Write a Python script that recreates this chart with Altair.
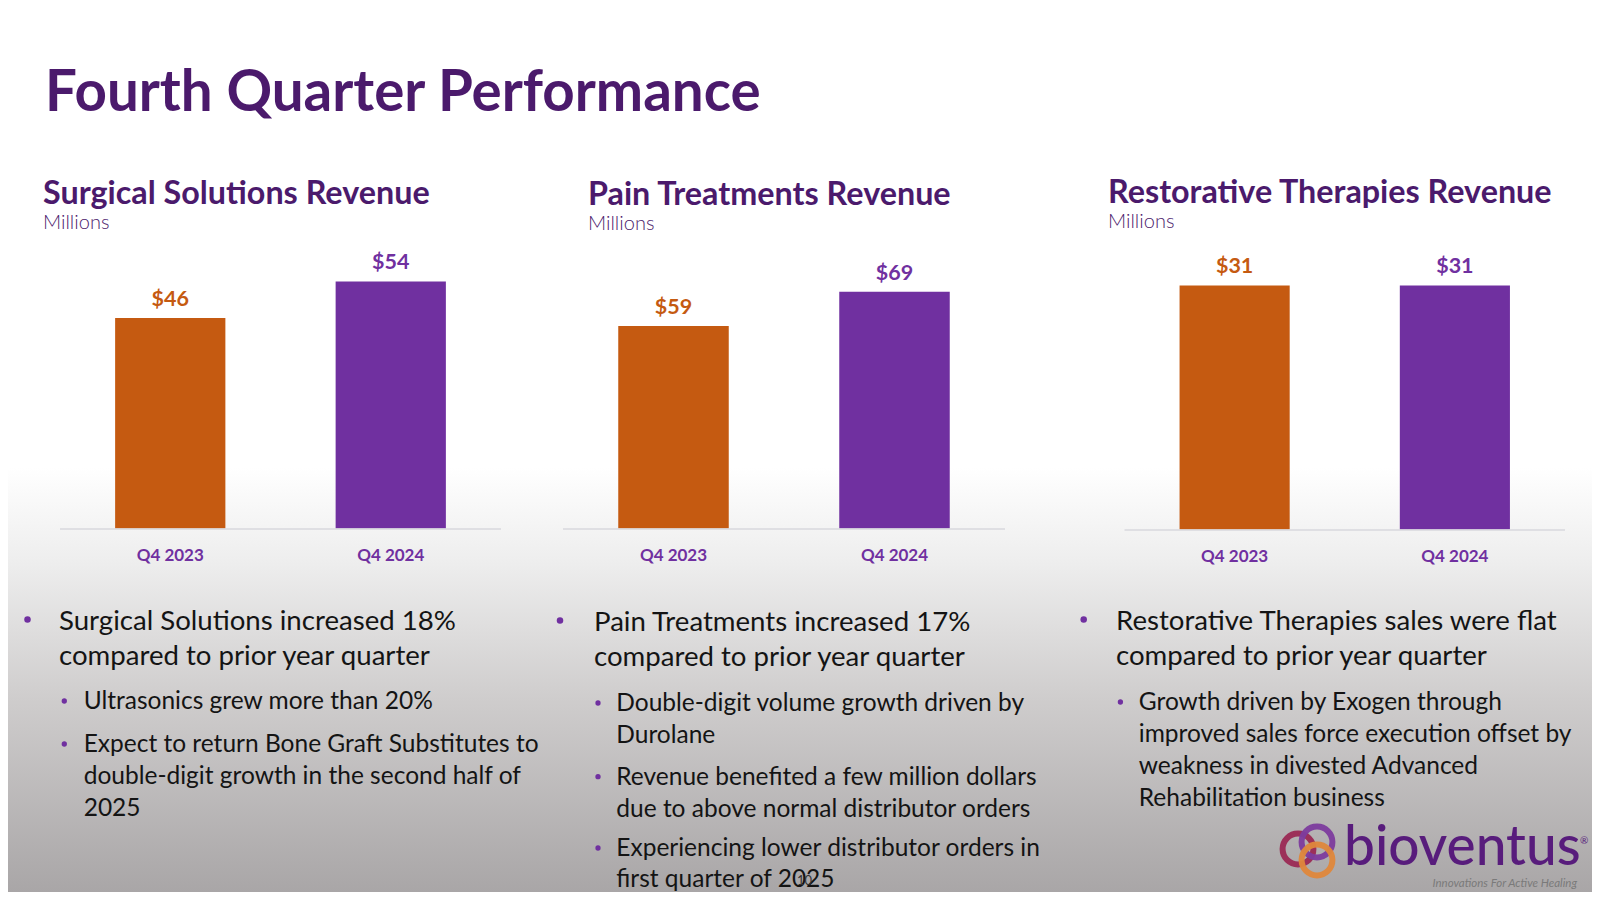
import altair as alt
import pandas as pd

# ---------------- data ----------------
slide_title = "Fourth Quarter Performance"
categories = ["Q4 2023", "Q4 2024"]
bar_colors = ["#C55A11", "#7030A0"]

panel_titles = ["Surgical Solutions Revenue", "Pain Treatments Revenue", "Restorative Therapies Revenue"]
panel_unit = "Millions"
surgical_values = [46, 54]
pain_values = [59, 69]
restorative_values = [31, 31]
axis_max = [60, 80, 35]

surgical_main = ["Surgical Solutions increased 18%", "compared to prior year quarter"]
surgical_sub1 = ["Ultrasonics grew more than 20%"]
surgical_sub2 = ["Expect to return Bone Graft Substitutes to",
                 "double-digit growth in the second half of", "2025"]

pain_main = ["Pain Treatments increased 17%", "compared to prior year quarter"]
pain_sub1 = ["Double-digit volume growth driven by", "Durolane"]
pain_sub2 = ["Revenue benefited a few million dollars", "due to above normal distributor orders"]
pain_sub3 = ["Experiencing lower distributor orders in", "first quarter of 2025"]

rest_main = ["Restorative Therapies sales were flat", "compared to prior year quarter"]
rest_sub1 = ["Growth driven by Exogen through", "improved sales force execution offset by",
             "weakness in divested Advanced", "Rehabilitation business"]

logo_word = "bioventus"
logo_tag = "Innovations For Active Healing"
slide_number = "10"

# ---------------- styling ----------------
W, H = 1584, 884
DARK = "#4B1A6C"
PURPLE = "#7030A0"
TEXT = "#141414"
FONT = "Lato"

one = pd.DataFrame({"k": [0]})


def txt(lines, x, y, size, color=TEXT, weight="normal", lh=None, align="left",
        style="normal", font=FONT):
    kw = dict(text=lines, x=x, y=y, fontSize=size, color=color, fontWeight=weight,
              align=align, baseline="alphabetic", font=font, fontStyle=style)
    if lh is not None:
        kw["lineHeight"] = lh
    return alt.Chart(one).mark_text(**kw)


def dot(x, y, size):
    return alt.Chart(one).mark_circle(x=x, y=y, size=size, color=PURPLE, opacity=1)


layers = []

# background gradient
grad = alt.LinearGradient(
    gradient="linear",
    stops=[alt.GradientStop(color="#ffffff", offset=0),
           alt.GradientStop(color="#ffffff", offset=0.52),
           alt.GradientStop(color="#ededed", offset=0.63),
           alt.GradientStop(color="#cfcdcd", offset=0.78),
           alt.GradientStop(color="#a9a6a7", offset=1)],
    x1=0, x2=0, y1=0, y2=1)
layers.append(alt.Chart(one).mark_rect(fill=grad).encode(
    x=alt.value(0), x2=alt.value(W), y=alt.value(0), y2=alt.value(H)))

# slide title
layers.append(txt(slide_title, 37, 103, 56.5, DARK, "bold"))

# panels
panels = [
    dict(vals=surgical_values, x0=52, x1=493, base=520.6, title_x=35, title_y=196, unit_y=221),
    dict(vals=pain_values, x0=555, x1=997, base=520.6, title_x=580, title_y=197, unit_y=222),
    dict(vals=restorative_values, x0=1116.5, x1=1557, base=521.6, title_x=1100, title_y=195, unit_y=220),
]
for i, p in enumerate(panels):
    df = pd.DataFrame({"cat": categories, "value": p["vals"]})
    xs = alt.Scale(domain=categories, range=[p["x0"], p["x1"]], paddingInner=0.5, paddingOuter=0.25)
    ys = alt.Scale(domain=[0, axis_max[i]], range=[p["base"], 246], nice=False, zero=True)
    cs = alt.Scale(domain=categories, range=bar_colors)
    X = alt.X("cat:N", scale=xs, axis=None, sort=categories)
    Y = alt.Y("value:Q", scale=ys, axis=None)
    C = alt.Color("cat:N", scale=cs, legend=None)
    base = alt.Chart(df)
    layers.append(base.mark_bar().encode(x=X, y=Y, color=C))
    layers.append(base.mark_text(font=FONT, fontSize=21.5, fontWeight="bold", dy=-12,
                                 baseline="alphabetic").encode(
        x=X, y=Y, color=C, text=alt.Text("value:Q", format="$.0f")))
    layers.append(base.mark_text(font=FONT, fontSize=17, fontWeight="bold", color=PURPLE,
                                 baseline="alphabetic").encode(
        x=X, y=alt.value(p["base"] + 32.5), text="cat:N"))
    layers.append(alt.Chart(one).mark_rule(color="#d9d9de", strokeWidth=1.5).encode(
        x=alt.value(p["x0"]), x2=alt.value(p["x1"]), y=alt.value(p["base"] + 0.5)))
    layers.append(txt(panel_titles[i], p["title_x"], p["title_y"], 32.3, DARK, "bold"))
    layers.append(txt(panel_unit, p["title_x"], p["unit_y"], 20, DARK, 300))

# bullets - surgical
MAIN, SUB, LH_MAIN, LH_SUB = 27.6, 24.5, 35.5, 32
layers += [
    dot(19.5, 611.6, 42), txt(surgical_main, 51, 621.6, MAIN, lh=LH_MAIN),
    dot(56.3, 693, 28), txt(surgical_sub1, 75.7, 701, SUB, lh=LH_SUB),
    dot(56.3, 736, 28), txt(surgical_sub2, 75.7, 744, SUB, lh=LH_SUB),
]
# bullets - pain
layers += [
    dot(552, 612.6, 42), txt(pain_main, 586, 622.6, MAIN, lh=LH_MAIN),
    dot(590, 695, 28), txt(pain_sub1, 608.3, 703, SUB, lh=LH_SUB),
    dot(590, 768.7, 28), txt(pain_sub2, 608.3, 776.7, SUB, lh=LH_SUB),
    dot(590, 840, 28), txt(pain_sub3, 608.3, 848, SUB, lh=31),
]
# bullets - restorative
layers += [
    dot(1075.7, 611.6, 42), txt(rest_main, 1108, 621.6, MAIN, lh=LH_MAIN),
    dot(1112.4, 694, 28), txt(rest_sub1, 1130.8, 702, SUB, lh=LH_SUB),
]

# slide number
layers.append(txt(slide_number, 789, 877, 13, "#333333"))

# logo
for (cx, cy, col) in [(1290, 841, "#9B2A55"), (1309, 834, "#7E3C9E"), (1309, 852, "#E0883C")]:
    layers.append(alt.Chart(one).mark_point(shape="circle", filled=False, strokeWidth=6,
                                            size=950, color=col, opacity=0.95).encode(
        x=alt.value(cx), y=alt.value(cy)))
layers.append(txt(logo_word, 1336, 857, 55, "#581C7C", 500))
layers.append(txt("®", 1572, 836, 10, "#581C7C"))
layers.append(txt(logo_tag, 1569, 879, 11.5, "#7a7a7a", align="right", style="italic"))

chart = alt.layer(*layers).resolve_scale(
    x="independent", y="independent", color="independent"
).properties(
    width=W, height=H, autosize=alt.AutoSizeParams(type="none"), padding=0
).configure_view(stroke=None)

chart.save("out.html", embed_options={"renderer": "svg", "actions": False})
